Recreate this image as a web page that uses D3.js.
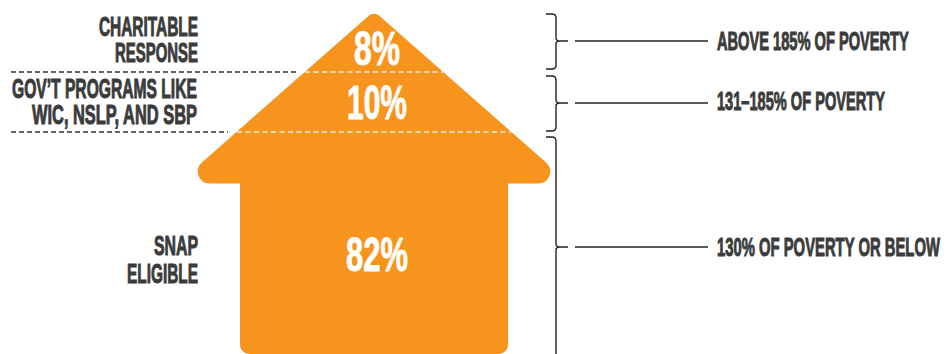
<!DOCTYPE html>
<html>
<head>
<meta charset="utf-8">
<script src="https://cdn.jsdelivr.net/npm/d3@7/dist/d3.min.js"></script>
<style>
  html, body { margin: 0; padding: 0; background: #fff; }
  svg { display: block; }
  text { font-family: "Liberation Sans Narrow", "Liberation Sans", sans-serif; font-weight: 700; }
</style>
</head>
<body>
<svg id="chart" width="947" height="354"></svg>
<script>
// Share of people in each income band, from the top of the house down
const shares = [8, 10, 82];
const shareLabels = ["8%", "10%", "82%"];
const programLabels = [["CHARITABLE", "RESPONSE"], ["GOV\u2019T PROGRAMS LIKE", "WIC, NSLP, AND SBP"], ["SNAP", "ELIGIBLE"]];
const povertyLabels = ["ABOVE 185% OF POVERTY", "131\u2013185% OF POVERTY", "130% OF POVERTY OR BELOW"];

const ORANGE = "#f7941e", INK = "#3b3b3b", LINE = "#222";

// The three bands are drawn schematically, so the scale is piecewise over cumulative share
const cumulative = d3.cumsum(shares);
const y = d3.scaleLinear().domain([0, ...cumulative]).range([11, 72, 132, 358]);

const svg = d3.select("#chart");

// Layout of the house outline
const cx = 374, eaveY = 183.5, bottom = 354, eaveL = 178, eaveR = 570, wallL = 240, wallR = 508;

const p = d3.path();
p.moveTo(wallL + 40, eaveY);
p.arcTo(eaveL, eaveY, cx, y(0), 12);
p.arcTo(cx, y(0), eaveR, eaveY, 8);
p.arcTo(eaveR, eaveY, wallR, eaveY, 12);
p.lineTo(wallR, eaveY);
p.arcTo(wallR, bottom, wallL, bottom, 9);
p.arcTo(wallL, bottom, wallL, eaveY, 9);
p.lineTo(wallL, eaveY);
p.closePath();
svg.append("path").attr("d", p.toString()).attr("fill", ORANGE);

// Band dividers: dark outside the house, pale inside it
const roofEdges = [[296, 305, 443], [228, 237, 511]];
cumulative.slice(0, 2).forEach((c, i) => {
  const [darkEnd, inL, inR] = roofEdges[i];
  svg.append("line").attr("x1", 11).attr("x2", darkEnd).attr("y1", y(c)).attr("y2", y(c))
    .attr("stroke", "#333").attr("stroke-width", 1.5).attr("stroke-dasharray", "5 3");
  svg.append("line").attr("x1", inL).attr("x2", inR).attr("y1", y(c)).attr("y2", y(c))
    .attr("stroke", "#fff").attr("stroke-opacity", 0.85).attr("stroke-width", 1.5).attr("stroke-dasharray", "5 3.5");
});

// Condensed label: natural width is measured, then squeezed to the given horizontal extent
function fitted(str, x0, x1, baseline, size, fill, stroke) {
  const t = svg.append("text").text(str)
    .attr("font-size", size).attr("fill", fill)
    .attr("stroke", fill).attr("stroke-width", stroke);
  const natural = t.node().getComputedTextLength();
  t.attr("transform", `translate(${x0},${baseline}) scale(${(x1 - x0) / natural},1)`);
}

// Percentages inside the house
const pctBoxes = [[354, 400, 65], [347, 407, 119], [346, 408, 271]];
shareLabels.forEach((s, i) => {
  const [a, b, base] = pctBoxes[i];
  fitted(s, a, b, base, 49, "#fff", 0.9);
});

// Programme names, right aligned against the house
const leftBoxes = [[[99, 198, 36], [115, 198, 62]], [[12, 197, 98], [32, 197, 124]], [[154, 198, 255], [127, 198, 283]]];
programLabels.forEach((lines, i) => lines.forEach((s, j) => {
  const [a, b, base] = leftBoxes[i][j];
  fitted(s, a, b, base, 27, INK, 1);
}));

// Curly brackets and leader lines on the right
const brackets = [[14, 69, 41], [76, 131, 103], [137, 380, 247]];
brackets.forEach(([top, bot, mid]) => {
  const x0 = 546, xs = 556, tip = 568;
  svg.append("path")
    .attr("d", `M${x0},${top}H${xs - 4}Q${xs},${top} ${xs},${top + 4}V${mid - 3}Q${xs},${mid} ${tip - 8},${mid}H${tip}` +
               `M${tip - 8},${mid}Q${xs},${mid} ${xs},${mid + 3}V${bot - 4}Q${xs},${bot} ${xs - 4},${bot}H${x0}`)
    .attr("fill", "none").attr("stroke", LINE).attr("stroke-width", 1.4);
  svg.append("line").attr("x1", 575).attr("x2", 708).attr("y1", mid).attr("y2", mid)
    .attr("stroke", LINE).attr("stroke-width", 1.4);
});

// Poverty-level labels
const rightBoxes = [[717, 909, 50], [717, 885, 110], [717, 940, 256]];
povertyLabels.forEach((s, i) => {
  const [a, b, base] = rightBoxes[i];
  fitted(s, a, b, base, 26, INK, 1);
});
</script>
</body>
</html>
